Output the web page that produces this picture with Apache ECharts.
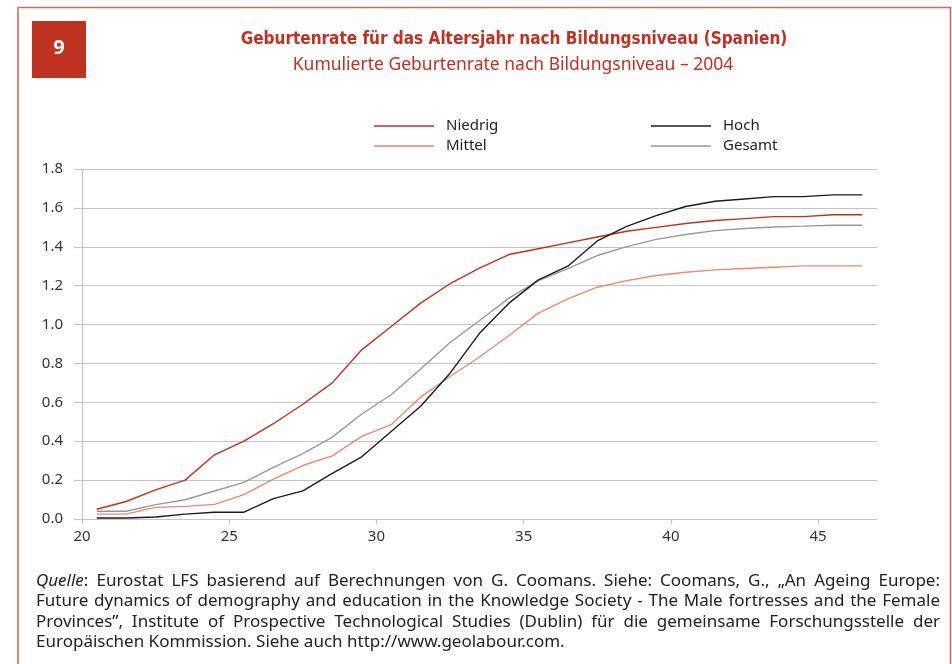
<!DOCTYPE html>
<html>
<head>
<meta charset="utf-8">
<script src="https://cdn.jsdelivr.net/npm/echarts@6/dist/echarts.min.js"></script>
<style>
  html, body { margin: 0; padding: 0; background: #fff; }
  #chart { width: 952px; height: 664px; }
</style>
</head>
<body>
<div id="chart"></div>
<script>
// Alter (Jahresmitte) der Frauen
const ages = [20.5, 21.5, 22.5, 23.5, 24.5, 25.5, 26.5, 27.5, 28.5, 29.5,
              30.5, 31.5, 32.5, 33.5, 34.5, 35.5, 36.5, 37.5, 38.5, 39.5,
              40.5, 41.5, 42.5, 43.5, 44.5, 45.5, 46.5];

// Kumulierte Geburtenrate je Bildungsniveau
const niedrig = [0.05, 0.09, 0.15, 0.20, 0.33, 0.40, 0.49, 0.59, 0.70, 0.87,
                 0.99, 1.11, 1.21, 1.29, 1.36, 1.39, 1.42, 1.45, 1.48, 1.50,
                 1.52, 1.535, 1.545, 1.555, 1.555, 1.565, 1.565];
const mittel  = [0.025, 0.025, 0.06, 0.065, 0.075, 0.125, 0.205, 0.275, 0.325, 0.425,
                 0.485, 0.627, 0.733, 0.833, 0.944, 1.059, 1.132, 1.192, 1.226, 1.252,
                 1.269, 1.281, 1.288, 1.295, 1.302, 1.302, 1.302];
const hoch    = [0.005, 0.005, 0.01, 0.025, 0.035, 0.035, 0.105, 0.145, 0.235, 0.32,
                 0.45, 0.58, 0.75, 0.955, 1.11, 1.23, 1.30, 1.43, 1.505, 1.56,
                 1.607, 1.634, 1.646, 1.658, 1.658, 1.667, 1.667];
const gesamt  = [0.04, 0.04, 0.074, 0.099, 0.144, 0.188, 0.266, 0.336, 0.421, 0.54,
                 0.639, 0.771, 0.908, 1.021, 1.136, 1.226, 1.288, 1.355, 1.401, 1.438,
                 1.463, 1.483, 1.494, 1.502, 1.506, 1.511, 1.511];

const xTicks = [20, 25, 30, 35, 40, 45];

const titleText = 'Geburtenrate für das Altersjahr nach Bildungsniveau (Spanien)';
const subtitleText = 'Kumulierte Geburtenrate nach Bildungsniveau – 2004';
const sourceLines = [
  'Quelle: Eurostat LFS basierend auf Berechnungen von G. Coomans. Siehe: Coomans, G., „An Ageing Europe:',
  'Future dynamics of demography and education in the Knowledge Society - The Male fortresses and the Female',
  'Provinces”, Institute of Prospective Technological Studies (Dublin) für die gemeinsame Forschungsstelle der',
  'Europäischen Kommission. Siehe auch http://www.geolabour.com.'
];

const RED = '#c0321f';
const FONT = '"Noto Sans", "Open Sans", sans-serif';
const FOOT_SIZE = 17;

// Blocksatz für die Quellenangabe: Wörter einzeln setzen
const measureCtx = document.createElement('canvas').getContext('2d');
function wordWidth(w, italic) {
  measureCtx.font = (italic ? 'italic ' : '') + FOOT_SIZE + 'px ' + FONT;
  return measureCtx.measureText(w).width;
}
function sourceGraphics() {
  const left = 36, right = 940, top = 581, lh = 20.4;
  const els = [];
  sourceLines.forEach((line, li) => {
    const words = line.split(' ');
    const parts = words.map((w, wi) => {
      if (li === 0 && wi === 0) {
        // "Quelle" kursiv, Doppelpunkt normal
        return [{ t: 'Quelle', it: true }, { t: ':', it: false }];
      }
      return [{ t: w, it: false }];
    });
    const widths = parts.map(p => p.reduce((s, q) => s + wordWidth(q.t, q.it), 0));
    const total = widths.reduce((a, b) => a + b, 0);
    const last = li === sourceLines.length - 1;
    const gap = last ? wordWidth(' ', false) : (right - left - total) / (words.length - 1);
    let x = left;
    parts.forEach((p, wi) => {
      let xx = x;
      p.forEach(q => {
        els.push({
          type: 'text', x: xx, y: top + li * lh,
          style: {
            text: q.t, fill: '#222', fontFamily: FONT, fontSize: FOOT_SIZE,
            fontStyle: q.it ? 'italic' : 'normal',
            align: 'left', verticalAlign: 'middle'
          }
        });
        xx += wordWidth(q.t, q.it);
      });
      x += widths[wi] + gap;
    });
  });
  return els;
}

const chart = echarts.init(document.getElementById('chart'), null, { renderer: 'canvas' });

function mkSeries(name, data, color, z) {
  return {
    name, type: 'line', symbol: 'none', z,
    data: ages.map((a, i) => [a, data[i]]),
    lineStyle: { color, width: 1.4 },
    itemStyle: { color },
    emphasis: { disabled: true },
    animation: false
  };
}

const legendBase = {
  orient: 'vertical', icon: 'rect', itemWidth: 60, itemHeight: 1.5, itemGap: 0,
  padding: 0, selectedMode: false,
  textStyle: { fontFamily: FONT, fontSize: 15, color: '#222', lineHeight: 20, padding: [0, 0, 0, 7] }
};

chart.setOption({
  animation: false,
  backgroundColor: '#fff',
  title: [
    {
      text: titleText, left: 509, top: 26, textAlign: 'center',
      textStyle: { fontFamily: '"Liberation Sans Narrow", "DejaVu Sans Condensed", sans-serif', fontWeight: 'bold', fontSize: 17, color: RED }
    },
    {
      text: subtitleText, left: 508, top: 51, textAlign: 'center',
      textStyle: { fontFamily: FONT, fontWeight: 'normal', fontSize: 17.5, color: RED }
    }
  ],
  legend: [
    Object.assign({ left: 374, top: 116, data: ['Niedrig', 'Mittel'] }, legendBase),
    Object.assign({ left: 651, top: 116, data: ['Hoch', 'Gesamt'] }, legendBase)
  ],
  grid: { left: 82, right: 75, top: 169, bottom: 145, containLabel: false },
  xAxis: {
    type: 'value', min: 20, max: 47,
    axisLine: { show: true, lineStyle: { color: '#c4c4c4', width: 1.2 } },
    axisTick: { show: true, length: 5, customValues: xTicks, lineStyle: { color: '#c4c4c4', width: 1.2 } },
    axisLabel: { customValues: xTicks, margin: 10, fontFamily: FONT, fontSize: 15, color: '#333' },
    splitLine: { show: false }
  },
  yAxis: {
    type: 'value', min: 0, max: 1.8, interval: 0.2,
    axisLine: { show: true, lineStyle: { color: '#c4c4c4', width: 1.2 } },
    axisTick: { show: true, length: 8, lineStyle: { color: '#c4c4c4', width: 1.2 } },
    axisLabel: { margin: 19, fontFamily: FONT, fontSize: 15, color: '#333', formatter: v => v.toFixed(1) },
    splitLine: { show: true, lineStyle: { color: '#c4c4c4', width: 1.2 } }
  },
  series: [
    mkSeries('Niedrig', niedrig, RED, 4),
    mkSeries('Hoch', hoch, '#1c1c1c', 5),
    mkSeries('Mittel', mittel, '#e98b6c', 3),
    mkSeries('Gesamt', gesamt, '#999999', 2)
  ],
  graphic: [
    {
      type: 'polyline', silent: true,
      shape: { points: [[18, 664], [18, 7.5], [950.5, 7.5], [950.5, 664]] },
      style: { stroke: '#d76b59', lineWidth: 1.6, fill: null }
    },
    {
      type: 'rect', silent: true,
      shape: { x: 32, y: 21, width: 54, height: 57 },
      style: { fill: '#bf3220' }
    },
    {
      type: 'text', silent: true, x: 59, y: 48,
      style: { text: '9', fill: '#fff', fontFamily: FONT, fontWeight: 'bold', fontSize: 20, align: 'center', verticalAlign: 'middle' }
    }
  ].concat(sourceGraphics())
});
</script>
</body>
</html>
